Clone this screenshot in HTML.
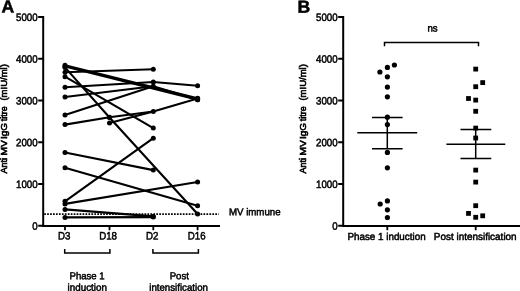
<!DOCTYPE html>
<html><head><meta charset="utf-8"><title>Figure</title>
<style>
html,body{margin:0;padding:0;background:#fff;}
body{width:520px;height:291px;overflow:hidden;}
svg{display:block;}
svg text{font-family:"Liberation Sans",Arial,Helvetica,sans-serif;fill:#000;stroke:#000;}
.t{font-size:10.8px;stroke-width:0.5px;}
.yl{font-size:9.5px;stroke-width:0.6px;}
.h{font-size:17.6px;font-weight:bold;stroke-width:0.5px;}
.ax{stroke:#000;stroke-width:2;fill:none;}
.tk{stroke:#000;stroke-width:1.8;fill:none;}
.ln{stroke:#000;stroke-width:2.1;fill:none;stroke-linejoin:round;}
.br{stroke:#000;stroke-width:1.5;fill:none;}
</style></head><body>
<svg width="520" height="291" viewBox="0 0 520 291">
<rect width="520" height="291" fill="#fff"/>
<path class="ax" d="M43.2 16.1V226.9M42.2 225.9H220.0"/>
<path class="tk" d="M38.2 17.00H43.2M38.2 58.75H43.2M38.2 100.50H43.2M38.2 142.25H43.2M38.2 184.00H43.2M38.2 225.75H43.2M65.0 225.9V230.3M109.5 225.9V230.3M153.3 225.9V230.3M197.6 225.9V230.3"/>
<text class="t" transform="translate(37.60 20.95) rotate(0.03) scale(0.9 1)" text-anchor="end">5000</text>
<text class="t" transform="translate(37.60 62.70) rotate(0.03) scale(0.9 1)" text-anchor="end">4000</text>
<text class="t" transform="translate(37.60 104.45) rotate(0.03) scale(0.9 1)" text-anchor="end">3000</text>
<text class="t" transform="translate(37.60 146.20) rotate(0.03) scale(0.9 1)" text-anchor="end">2000</text>
<text class="t" transform="translate(37.60 187.95) rotate(0.03) scale(0.9 1)" text-anchor="end">1000</text>
<text class="t" transform="translate(37.60 229.70) rotate(0.03) scale(0.9 1)" text-anchor="end">0</text>
<text class="h" transform="translate(1.40 12.50) rotate(0.03) scale(1 1)" text-anchor="start">A</text>
<text class="yl" transform="translate(6.5 173.5) rotate(-90)"><tspan x="0.0" textLength="15.6" lengthAdjust="spacingAndGlyphs">Anti</tspan> <tspan x="17.9" textLength="15.4" lengthAdjust="spacingAndGlyphs">MV</tspan> <tspan x="34.5" textLength="16.1" lengthAdjust="spacingAndGlyphs">IgG</tspan> <tspan x="52.3" textLength="14.8" lengthAdjust="spacingAndGlyphs">titre</tspan> <tspan x="72.9" textLength="36.5" lengthAdjust="spacingAndGlyphs">(mIU/ml)</tspan></text>
<text class="t" transform="translate(64.10 239.60) rotate(0.03) scale(0.9 1)" text-anchor="middle">D3</text>
<text class="t" transform="translate(108.10 239.60) rotate(0.03) scale(0.9 1)" text-anchor="middle">D18</text>
<text class="t" transform="translate(152.10 239.60) rotate(0.03) scale(0.9 1)" text-anchor="middle">D2</text>
<text class="t" transform="translate(196.70 239.60) rotate(0.03) scale(0.9 1)" text-anchor="middle">D16</text>
<path class="br" d="M64.7 249.1V253H109.9V249.1"/>
<path class="br" d="M152.9 249.1V253H198.4V249.1"/>
<text class="t" style="font-size:10px" transform="translate(87.10 279.30) rotate(0.03) scale(0.96 1)" text-anchor="middle">Phase 1</text>
<text class="t" style="font-size:10px" transform="translate(87.30 290.70) rotate(0.03) scale(0.985 1)" text-anchor="middle">induction</text>
<text class="t" style="font-size:10px" transform="translate(179.30 279.30) rotate(0.03) scale(0.96 1)" text-anchor="middle">Post</text>
<text class="t" style="font-size:10px" transform="translate(178.60 290.70) rotate(0.03) scale(0.97 1)" text-anchor="middle">intensification</text>
<path d="M44.2 214.1H218.8" stroke="#000" stroke-width="1.6" stroke-dasharray="1.7 1.25" fill="none"/>
<text class="t" style="font-size:10px" transform="translate(228.90 215.30) rotate(0.03) scale(0.97 1)" text-anchor="start">MV immune</text>
<g class="ln">
<path d="M65.0 65.3L197.6 98.3"/>
<path d="M65.0 66.5L197.6 99.7"/>
<path d="M65.0 67.4L109.5 117.5L197.6 214.0"/>
<path d="M65.0 72.2L153.3 69.3"/>
<path d="M65.0 76.7L153.3 128.1"/>
<path d="M65.0 87.2L153.3 82.0L197.6 85.8"/>
<path d="M65.0 97.0L153.3 86.2L197.6 99.8"/>
<path d="M65.0 115.0L153.3 86.2"/>
<path d="M65.0 124.6L109.5 117.3L153.3 111.5L197.6 98.6"/>
<path d="M109.5 123.1L153.3 111.5"/>
<path d="M65.0 152.5L153.3 170.1"/>
<path d="M65.0 167.8L197.6 205.8"/>
<path d="M65.0 201.3L153.3 138.2"/>
<path d="M65.0 203.9L197.6 182.0"/>
<path d="M65.0 209.4L153.3 216.4"/>
<path d="M65.0 217.4L153.3 217.1"/>
</g>
<g fill="#000">
<circle cx="65.0" cy="65.3" r="2.5"/>
<circle cx="197.6" cy="98.3" r="2.5"/>
<circle cx="65.0" cy="66.5" r="2.5"/>
<circle cx="197.6" cy="99.7" r="2.5"/>
<circle cx="65.0" cy="67.4" r="2.5"/>
<circle cx="109.5" cy="117.5" r="2.5"/>
<circle cx="197.6" cy="214.0" r="2.5"/>
<circle cx="65.0" cy="72.2" r="2.5"/>
<circle cx="153.3" cy="69.3" r="2.5"/>
<circle cx="65.0" cy="76.7" r="2.5"/>
<circle cx="153.3" cy="128.1" r="2.5"/>
<circle cx="65.0" cy="87.2" r="2.5"/>
<circle cx="153.3" cy="82.0" r="2.5"/>
<circle cx="197.6" cy="85.8" r="2.5"/>
<circle cx="65.0" cy="97.0" r="2.5"/>
<circle cx="153.3" cy="86.2" r="2.5"/>
<circle cx="197.6" cy="99.8" r="2.5"/>
<circle cx="65.0" cy="115.0" r="2.5"/>
<circle cx="65.0" cy="124.6" r="2.5"/>
<circle cx="109.5" cy="117.3" r="2.5"/>
<circle cx="153.3" cy="111.5" r="2.5"/>
<circle cx="197.6" cy="98.6" r="2.5"/>
<circle cx="109.5" cy="123.1" r="2.5"/>
<circle cx="65.0" cy="152.5" r="2.5"/>
<circle cx="153.3" cy="170.1" r="2.5"/>
<circle cx="65.0" cy="167.8" r="2.5"/>
<circle cx="197.6" cy="205.8" r="2.5"/>
<circle cx="65.0" cy="201.3" r="2.5"/>
<circle cx="153.3" cy="138.2" r="2.5"/>
<circle cx="65.0" cy="203.9" r="2.5"/>
<circle cx="197.6" cy="182.0" r="2.5"/>
<circle cx="65.0" cy="209.4" r="2.5"/>
<circle cx="153.3" cy="216.4" r="2.5"/>
<circle cx="65.0" cy="217.4" r="2.5"/>
<circle cx="153.3" cy="217.1" r="2.5"/>
</g>
<path class="ax" d="M343.2 16.1V226.9M342.2 225.9H520.0"/>
<path class="tk" d="M338.2 17.00H343.2M338.2 58.75H343.2M338.2 100.50H343.2M338.2 142.25H343.2M338.2 184.00H343.2M338.2 225.75H343.2M387.3 225.9V230.3M475.7 225.9V230.3"/>
<text class="t" transform="translate(337.60 20.95) rotate(0.03) scale(0.9 1)" text-anchor="end">5000</text>
<text class="t" transform="translate(337.60 62.70) rotate(0.03) scale(0.9 1)" text-anchor="end">4000</text>
<text class="t" transform="translate(337.60 104.45) rotate(0.03) scale(0.9 1)" text-anchor="end">3000</text>
<text class="t" transform="translate(337.60 146.20) rotate(0.03) scale(0.9 1)" text-anchor="end">2000</text>
<text class="t" transform="translate(337.60 187.95) rotate(0.03) scale(0.9 1)" text-anchor="end">1000</text>
<text class="t" transform="translate(337.60 229.70) rotate(0.03) scale(0.9 1)" text-anchor="end">0</text>
<text class="h" transform="translate(297.40 12.70) rotate(0.03) scale(1 1)" text-anchor="start">B</text>
<text class="yl" transform="translate(306.4 173.5) rotate(-90)"><tspan x="0.0" textLength="15.6" lengthAdjust="spacingAndGlyphs">Anti</tspan> <tspan x="17.9" textLength="15.4" lengthAdjust="spacingAndGlyphs">MV</tspan> <tspan x="34.5" textLength="16.1" lengthAdjust="spacingAndGlyphs">IgG</tspan> <tspan x="52.3" textLength="14.8" lengthAdjust="spacingAndGlyphs">titre</tspan> <tspan x="72.9" textLength="36.5" lengthAdjust="spacingAndGlyphs">(mIU/ml)</tspan></text>
<text class="t" style="font-size:10.1px" transform="translate(386.50 239.90) rotate(0.03) scale(0.975 1)" text-anchor="middle">Phase 1 induction</text>
<text class="t" style="font-size:10.1px" transform="translate(475.20 239.90) rotate(0.03) scale(0.985 1)" text-anchor="middle">Post intensification</text>
<path class="br" d="M384.5 46.2V42.6H478.5V46.2"/>
<text class="t" style="font-size:10px" transform="translate(432.50 31.50) rotate(0.03) scale(0.97 1)" text-anchor="middle">ns</text>
<g class="br">
<path d="M357.3 132.8H417.2M372 117.5H402.6M372 148.8H402.6M387.3 117.5V148.8"/>
<path d="M446.4 144.3H505.3M460.5 129.6H491.3M460.5 158.5H491.3M475.7 129.6V158.5"/>
</g>
<g fill="#000">
<circle cx="394.4" cy="65.0" r="2.6"/>
<circle cx="387.4" cy="67.4" r="2.6"/>
<circle cx="379.9" cy="72.0" r="2.6"/>
<circle cx="387.4" cy="76.8" r="2.6"/>
<circle cx="387.4" cy="87.1" r="2.6"/>
<circle cx="387.4" cy="96.8" r="2.6"/>
<circle cx="387.4" cy="117.2" r="2.6"/>
<circle cx="387.4" cy="124.6" r="2.6"/>
<circle cx="387.4" cy="152.4" r="2.6"/>
<circle cx="387.4" cy="167.8" r="2.6"/>
<circle cx="387.4" cy="200.9" r="2.6"/>
<circle cx="380.2" cy="204.0" r="2.6"/>
<circle cx="387.4" cy="209.8" r="2.6"/>
<circle cx="387.4" cy="217.5" r="2.6"/>
<rect x="473.3" y="66.7" width="4.8" height="4.8"/>
<rect x="480.3" y="80.2" width="4.8" height="4.8"/>
<rect x="473.3" y="84.3" width="4.8" height="4.8"/>
<rect x="466.1" y="96.1" width="4.8" height="4.8"/>
<rect x="473.3" y="97.7" width="4.8" height="4.8"/>
<rect x="473.3" y="108.9" width="4.8" height="4.8"/>
<rect x="473.3" y="125.7" width="4.8" height="4.8"/>
<rect x="473.3" y="135.6" width="4.8" height="4.8"/>
<rect x="473.3" y="167.7" width="4.8" height="4.8"/>
<rect x="473.3" y="179.7" width="4.8" height="4.8"/>
<rect x="473.3" y="203.3" width="4.8" height="4.8"/>
<rect x="466.1" y="211.0" width="4.8" height="4.8"/>
<rect x="480.3" y="213.4" width="4.8" height="4.8"/>
<rect x="473.3" y="214.9" width="4.8" height="4.8"/>
</g>
</svg>
</body></html>
